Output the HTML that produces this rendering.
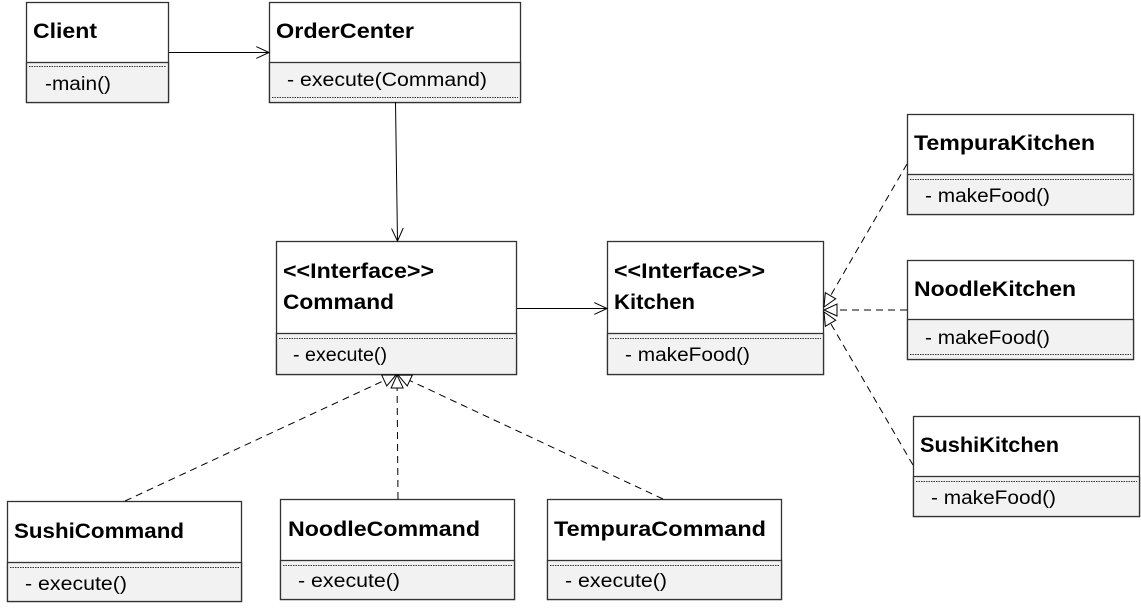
<!DOCTYPE html>
<html><head><meta charset="utf-8"><style>
html,body{margin:0;padding:0;background:#fff;}
svg{display:block;}
text{font-family:"Liberation Sans",sans-serif;fill:#000;}
.b{font-weight:bold;font-size:21px;}
.n{font-size:19px;}
</style></head><body>
<svg width="1141" height="609" viewBox="0 0 1141 609" xmlns="http://www.w3.org/2000/svg">
<defs>
<marker id="open" markerWidth="14" markerHeight="12" refX="13" refY="6" orient="auto" markerUnits="userSpaceOnUse">
<path d="M0,0 L13,6 L0,12" fill="none" stroke="#000" stroke-width="1"/>
</marker>
<marker id="tri" markerWidth="16" markerHeight="14" refX="14" refY="7" orient="auto" markerUnits="userSpaceOnUse">
<path d="M1,1 L14,7 L1,13 Z" fill="#fff" stroke="#000" stroke-width="1"/>
</marker>
</defs>
<g stroke="#333" stroke-width="1.3">
<rect x="26.5" y="2.5" width="142" height="100" fill="#fff"/>
<rect x="26.5" y="62.5" width="142" height="40" fill="#f2f2f2"/>
<line x1="29" y1="66.5" x2="166" y2="66.5" stroke-dasharray="1.5,1" stroke-width="1"/>
<rect x="269.5" y="2.5" width="251" height="100" fill="#fff"/>
<rect x="269.5" y="62.5" width="251" height="40" fill="#f2f2f2"/>
<line x1="272" y1="97.5" x2="518" y2="97.5" stroke-dasharray="1.5,1" stroke-width="1"/>
<rect x="276.5" y="241.5" width="240" height="133" fill="#fff"/>
<rect x="276.5" y="333.5" width="240" height="41" fill="#f2f2f2"/>
<line x1="279" y1="338.5" x2="514" y2="338.5" stroke-dasharray="1.5,1" stroke-width="1"/>
<rect x="607.5" y="241.5" width="216" height="133" fill="#fff"/>
<rect x="607.5" y="333.5" width="216" height="41" fill="#f2f2f2"/>
<line x1="610" y1="338.5" x2="821" y2="338.5" stroke-dasharray="1.5,1" stroke-width="1"/>
<rect x="907.5" y="114.5" width="226" height="100" fill="#fff"/>
<rect x="907.5" y="174.5" width="226" height="40" fill="#f2f2f2"/>
<line x1="910" y1="179.5" x2="1131" y2="179.5" stroke-dasharray="1.5,1" stroke-width="1"/>
<rect x="907.5" y="260.5" width="226" height="99" fill="#fff"/>
<rect x="907.5" y="319.5" width="226" height="40" fill="#f2f2f2"/>
<line x1="910" y1="354.5" x2="1131" y2="354.5" stroke-dasharray="1.5,1" stroke-width="1"/>
<rect x="913.5" y="416.5" width="226" height="100" fill="#fff"/>
<rect x="913.5" y="476.5" width="226" height="40" fill="#f2f2f2"/>
<line x1="916" y1="481.5" x2="1137" y2="481.5" stroke-dasharray="1.5,1" stroke-width="1"/>
<rect x="7.5" y="501.5" width="234" height="100" fill="#fff"/>
<rect x="7.5" y="562.5" width="234" height="39" fill="#f2f2f2"/>
<line x1="10" y1="567.5" x2="239" y2="567.5" stroke-dasharray="1.5,1" stroke-width="1"/>
<rect x="280.5" y="499.5" width="234" height="100" fill="#fff"/>
<rect x="280.5" y="560.5" width="234" height="39" fill="#f2f2f2"/>
<line x1="283" y1="565.5" x2="512" y2="565.5" stroke-dasharray="1.5,1" stroke-width="1"/>
<rect x="547.5" y="499.5" width="234" height="100" fill="#fff"/>
<rect x="547.5" y="560.5" width="234" height="39" fill="#f2f2f2"/>
<line x1="550" y1="565.5" x2="779" y2="565.5" stroke-dasharray="1.5,1" stroke-width="1"/>
</g>
<g stroke="#000" stroke-width="1" fill="none">
<line x1="169" y1="52.5" x2="269" y2="52.5" marker-end="url(#open)"/>
<line x1="395.5" y1="102" x2="397.5" y2="241" marker-end="url(#open)"/>
<line x1="517" y1="308.5" x2="607" y2="308.5" marker-end="url(#open)"/>
<g stroke-dasharray="7,5">
<line x1="125" y1="501" x2="396" y2="375" marker-end="url(#tri)"/>
<line x1="398" y1="499" x2="397" y2="375" marker-end="url(#tri)"/>
<line x1="663" y1="499" x2="398" y2="375" marker-end="url(#tri)"/>
<line x1="907" y1="164" x2="824" y2="307" marker-end="url(#tri)"/>
<line x1="907" y1="310" x2="824" y2="310" marker-end="url(#tri)"/>
<line x1="913" y1="465" x2="824" y2="312" marker-end="url(#tri)"/>
</g>
</g>
<g lengthAdjust="spacingAndGlyphs">
<text class="b" x="33" y="38" textLength="64" lengthAdjust="spacingAndGlyphs">Client</text>
<text class="n" x="45" y="90" textLength="66" lengthAdjust="spacingAndGlyphs">-main()</text>
<text class="b" x="276" y="38" textLength="138" lengthAdjust="spacingAndGlyphs">OrderCenter</text>
<text class="n" x="287" y="86" textLength="200" lengthAdjust="spacingAndGlyphs">- execute(Command)</text>
<text class="b" x="283" y="278" textLength="151" lengthAdjust="spacingAndGlyphs">&lt;&lt;Interface&gt;&gt;</text>
<text class="b" x="283" y="309" textLength="111" lengthAdjust="spacingAndGlyphs">Command</text>
<text class="n" x="293" y="361" textLength="94" lengthAdjust="spacingAndGlyphs">- execute()</text>
<text class="b" x="614" y="278" textLength="151" lengthAdjust="spacingAndGlyphs">&lt;&lt;Interface&gt;&gt;</text>
<text class="b" x="614" y="309" textLength="81" lengthAdjust="spacingAndGlyphs">Kitchen</text>
<text class="n" x="625" y="361" textLength="125" lengthAdjust="spacingAndGlyphs">- makeFood()</text>
<text class="b" x="914" y="150" textLength="181" lengthAdjust="spacingAndGlyphs">TempuraKitchen</text>
<text class="n" x="925" y="202" textLength="125" lengthAdjust="spacingAndGlyphs">- makeFood()</text>
<text class="b" x="914" y="296" textLength="162" lengthAdjust="spacingAndGlyphs">NoodleKitchen</text>
<text class="n" x="925" y="344" textLength="125" lengthAdjust="spacingAndGlyphs">- makeFood()</text>
<text class="b" x="920" y="452" textLength="139" lengthAdjust="spacingAndGlyphs">SushiKitchen</text>
<text class="n" x="931" y="504" textLength="125" lengthAdjust="spacingAndGlyphs">- makeFood()</text>
<text class="b" x="14" y="538" textLength="170" lengthAdjust="spacingAndGlyphs">SushiCommand</text>
<text class="n" x="25" y="590" textLength="102" lengthAdjust="spacingAndGlyphs">- execute()</text>
<text class="b" x="288" y="536" textLength="192" lengthAdjust="spacingAndGlyphs">NoodleCommand</text>
<text class="n" x="298" y="587" textLength="102" lengthAdjust="spacingAndGlyphs">- execute()</text>
<text class="b" x="554" y="536" textLength="212" lengthAdjust="spacingAndGlyphs">TempuraCommand</text>
<text class="n" x="565" y="587" textLength="102" lengthAdjust="spacingAndGlyphs">- execute()</text>
</g>
</svg>
</body></html>
